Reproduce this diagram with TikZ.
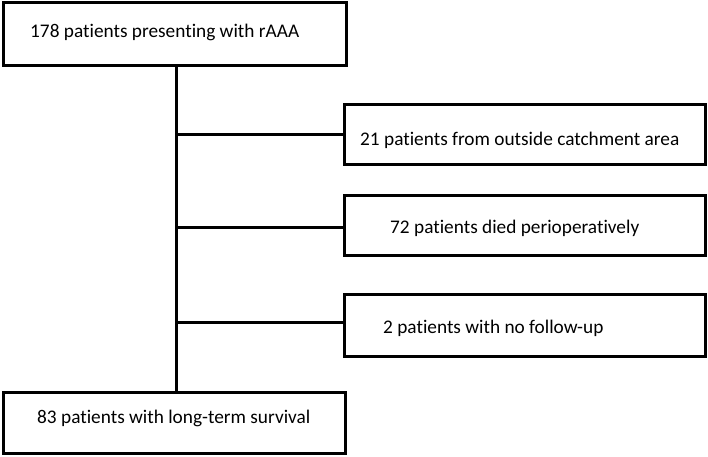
\documentclass[tikz,border=0pt]{standalone}
\usepackage{fontspec}
\setmainfont{Carlito}[Ligatures={NoCommon,NoRare,NoDiscretionary}]
\begin{document}
\begin{tikzpicture}[x=1pt,y=-1pt,
  box/.style={draw=black,line width=3pt,minimum width=#1,inner sep=0pt},
  txt/.style={font=\fontsize{19.3}{23}\selectfont,inner sep=0pt,anchor=base west},
  conn/.style={line width=3pt}]
\useasboundingbox[fill=white] (0,0) rectangle (708,456);
\node[box=343pt,minimum height=63pt] (top) at (174.5,33.5) {};
\node[box=361pt,minimum height=60pt] (b1) at (524.5,134) {};
\node[box=361pt,minimum height=60pt] (b2) at (524.5,225) {};
\node[box=361pt,minimum height=62pt] (b3) at (524.5,325) {};
\node[box=342pt,minimum height=61pt] (bot) at (174,422.5) {};
\node[txt] (t0) at (30,37) {178 patients presenting with rAAA};
\node[txt] (t1) at (360,145) {21 patients from outside catchment area};
\node[txt] (t2) at (390,233) {72 patients died perioperatively};
\node[txt] (t3) at (383,333) {2 patients with no follow-up};
\node[txt] (t4) at (37,423) {83 patients with long-term survival};
\coordinate (vt) at (176,0 |- top.south);
\coordinate (vb) at (176,0 |- bot.north);
\draw[conn] (vt) -- (vb);
\coordinate (j1) at (176,134);
\coordinate (j2) at (176,227);
\coordinate (j3) at (176,322);
\draw[conn] (j1) -- (j1 -| b1.west);
\draw[conn] (j2) -- (j2 -| b2.west);
\draw[conn] (j3) -- (j3 -| b3.west);
\end{tikzpicture}
\end{document}
